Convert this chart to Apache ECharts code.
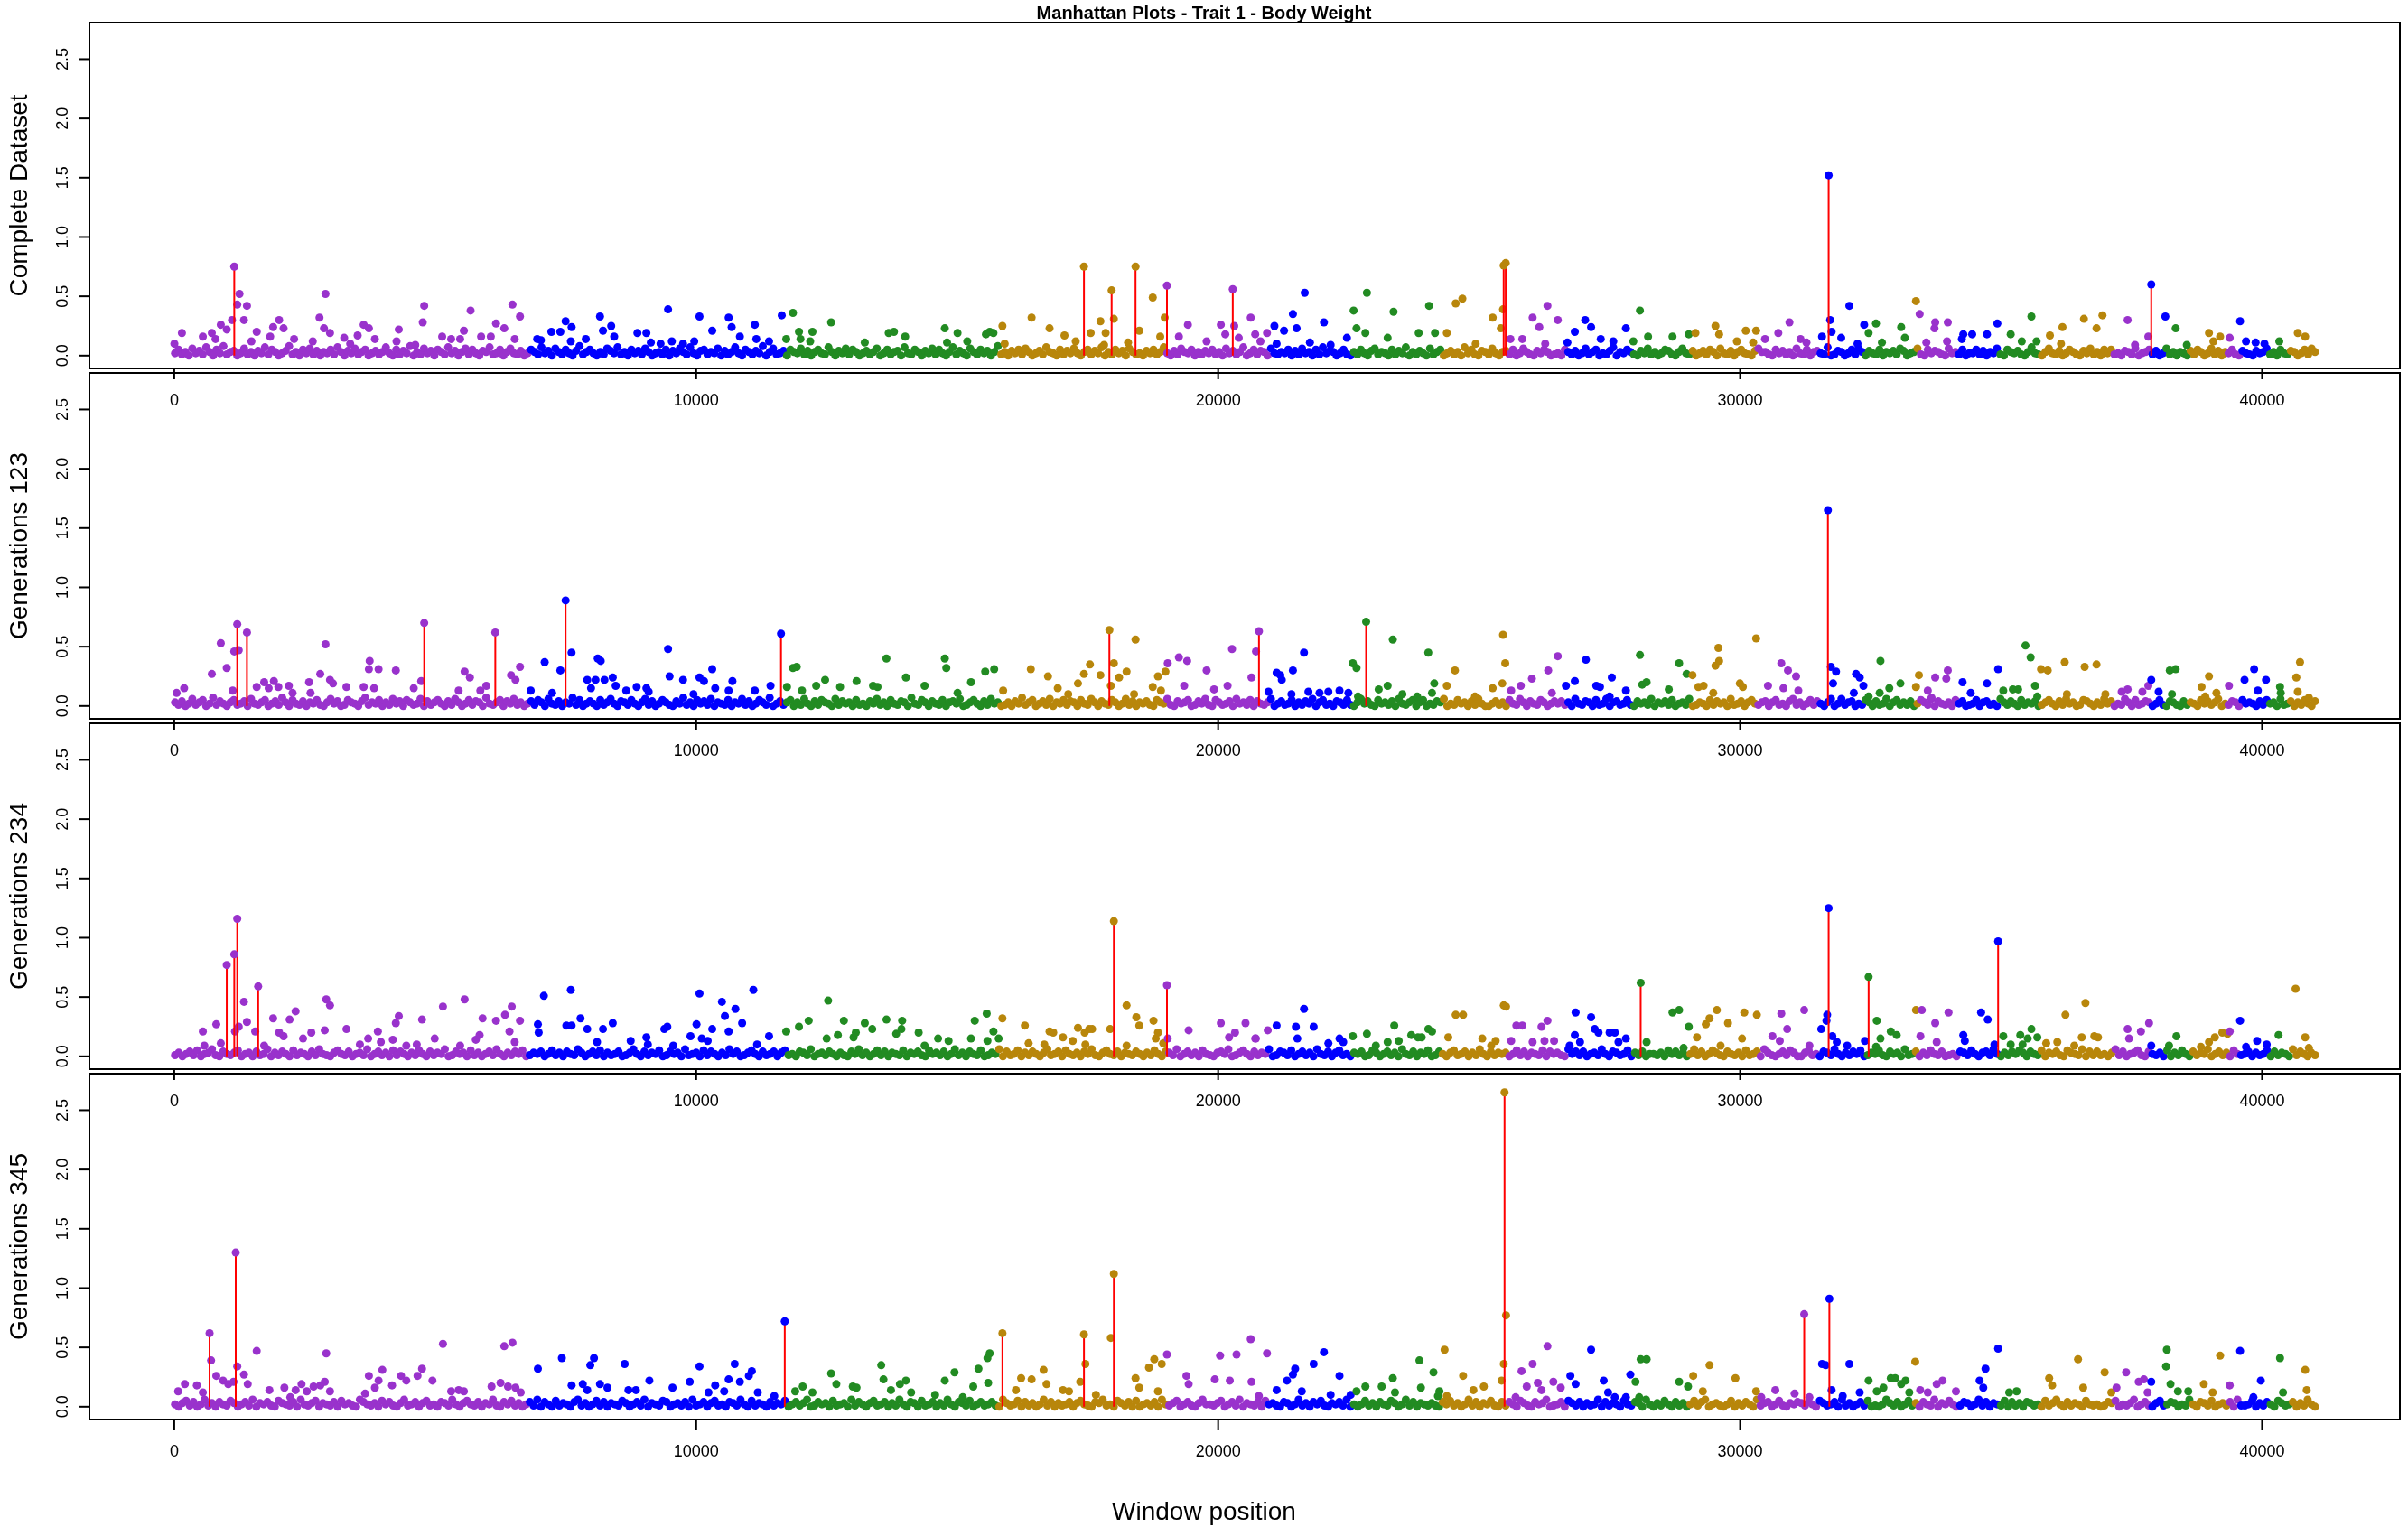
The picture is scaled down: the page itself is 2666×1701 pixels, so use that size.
<!DOCTYPE html>
<html>
<head>
<meta charset="utf-8">
<title>Manhattan Plots - Trait 1 - Body Weight</title>
<script src="https://cdn.jsdelivr.net/npm/echarts@6.0.0/dist/echarts.min.js"></script>
<style>
html, body { margin: 0; padding: 0; background: #fff; }
#main { width: 2666px; height: 1701px; }
</style>
</head>
<body>
<div id="main"></div>
<script>
var panelNames = ['Complete Dataset', 'Generations 123', 'Generations 234', 'Generations 345'];
var xTicks = [0, 10000, 20000, 30000, 40000];
var yTicks = [0, 0.5, 1, 1.5, 2, 2.5];
var xRange = [-1625, 42640];
var yRange = [-0.108, 2.808];

// last window of each chromosome, colours cycle purple / blue / green / gold
var chromEnds = [6810, 11710, 15800, 19010, 20960, 22540, 24270, 25530, 26660, 27940, 29030, 30350, 31490, 32400,
	33340, 33430, 34160, 34980, 35740, 37140, 37860, 38150, 38630, 39350, 39560, 40150, 40520, 41100];
var chromColors = ['#9932CC', '#0000FF', '#228B22', '#B8860B'];

// windows spread evenly from first to last window, low scores in hundredths
var windowSpan = [15, 41015];

var base1 = [2,5,1,3,0,6,2,4,1,7,3,0,5,2,8,1,3,4,0,2, 6,1,3,0,4,2,7,1,5,3,0,2,4,8,1,3,0,5,2,6,
	1,4,0,3,2,5,1,7,3,0,4,2,6,1,3,5,0,2,4,1, 3,7,2,0,5,1,4,2,8,0,3,1,6,2,4,0,5,3,1,7,
	2,4,0,3,6,1,5,2,0,4,3,7,1,2,5,0,3,6,2,1, 4,0,2,5,3,1,7,2,4,0,6,3,1,5,2,0,4,8,1,3,
	5,2,0,3,1,6,4,2,7,1,3,0,5,2,4,1,6,3,0,2, 3,1,5,0,4,2,6,3,1,7,2,0,4,5,1,3,2,6,0,4,
	1,3,7,2,0,5,3,1,4,2,8,0,3,6,1,2,4,0,5,3, 2,6,1,4,0,3,5,2,1,7,3,0,4,2,6,1,5,3,0,2,
	4,1,3,6,0,2,5,1,3,4,0,7,2,1,5,3,0,4,2,6, 1,5,2,0,3,7,1,4,2,0,6,3,1,5,2,4,0,3,8,1,
	3,0,4,2,5,1,6,3,0,2,4,1,7,3,2,0,5,1,4,2, 6,2,0,3,5,1,4,2,7,0,3,1,5,2,4,0,6,3,1,2,
	0,4,2,5,1,3,7,2,0,4,1,6,3,2,5,0,3,1,4,2, 5,1,3,0,6,2,4,1,3,7,0,2,5,1,4,3,0,6,2,1,
	3,2,5,0,4,1,6,2,3,0,5,1,7,2,4,3,0,2,5,1, 0,3,1,5,2,0,4,6,1,3,2,0,5,1,4,2,7,0,3,1,
	4,2,0,6,1,3,5,0,2,4,1,3,0,7,2,5,1,0,4,3, 1,6,2,0,3,4,1,5,0,2,6,3,1,0,4,2,5,3,0,1,
	2,0,5,3,1,4,0,2,6,1,3,5,0,2,1,4,7,0,3,2, 5,3,1,0,4,2,6,1,3,0,2,5,4,1,0,3,6,2,1,4,
	0,2,4,1,5,3,0,6,2,1,4,0,3,5,2,1,0,4,6,3, 3,1,0,5,2,4,1,3,0,6,2,1,5,0,3,4,2,1,7,0,
	1,4,3,0,2,5,1,6,3,0,4,2,1,5,0,3,2,4,1,6, 4,0,2,3,6,1,0,5,2,4,3,1,0,6,2,3,1,5,0,2,
	2,5,1,4,0,3,2,6,1,0,5,3,2,4,1,0,3,7,2,1, 0,3,6,2,1,4,0,2,5,3,1,0,4,2,6,1,3,0,5,2,
	5,1,2,0,4,3,1,6,0,2,3,5,1,4,0,2,6,1,3,0, 3,2,0,4,1,5,3,0,2,6,1,4,0,3,2,5,1,0,4,2,
	1,0,4,2,3,6,1,3,0,5,2,1,4,3,0,2,5,1,6,3];
var base2 = [3,1,4,0,2,6,1,3,5,0,2,7,1,4,2,0,3,5,1,2, 4,0,6,2,1,3,5,0,2,4,1,7,3,0,5,2,1,4,0,3,
	2,5,1,0,3,6,2,4,0,1,5,3,2,0,4,7,1,3,2,5, 0,3,1,6,2,4,0,5,3,1,2,6,0,4,1,3,5,2,0,4,
	1,6,3,0,2,5,1,4,3,0,7,2,1,3,5,0,4,2,6,1, 3,0,2,4,1,5,3,0,6,2,1,4,0,3,2,7,1,5,0,2,
	4,2,0,5,1,3,6,2,0,4,3,1,5,2,0,3,6,1,4,0, 2,5,3,1,0,4,2,7,1,3,0,5,2,4,1,6,0,3,2,1,
	5,0,3,2,6,1,4,0,2,5,3,1,7,0,2,4,1,3,5,0, 3,1,6,2,0,4,1,5,3,2,0,6,1,4,2,3,0,5,1,2,
	0,4,2,6,1,3,0,5,2,1,4,3,0,7,2,1,5,3,0,4, 2,1,5,0,3,4,2,6,0,1,3,5,2,0,4,1,6,2,3,0,
	1,3,0,4,2,7,1,3,5,0,2,4,1,6,0,3,2,5,1,4, 3,0,5,2,1,6,3,0,4,2,1,5,3,0,2,6,1,4,0,3,
	2,4,1,0,5,3,2,6,1,0,4,2,3,5,0,1,4,2,6,1, 0,5,3,1,2,4,0,6,2,3,1,5,0,4,2,1,3,6,0,2,
	4,1,2,5,0,3,1,4,2,6,0,3,5,1,2,0,4,3,1,5, 1,0,3,6,2,4,1,0,5,2,3,1,4,0,6,2,1,3,5,0,
	3,5,0,2,1,4,3,6,0,2,1,5,2,3,0,4,1,6,2,0, 0,2,4,1,3,0,5,2,1,6,3,0,4,2,1,5,3,0,2,4,
	2,4,1,3,0,6,2,1,4,3,0,5,1,2,6,0,3,4,1,2, 5,1,0,4,2,3,1,6,0,3,2,4,1,5,0,2,3,1,6,0,
	1,3,2,0,5,1,4,2,3,0,6,1,2,4,0,3,5,2,1,3, 4,0,3,5,1,2,0,4,6,1,3,0,2,5,1,4,2,0,3,6,
	0,2,6,1,3,4,0,2,1,5,3,0,4,1,2,6,0,3,5,1, 3,1,4,0,2,5,3,1,6,0,4,2,1,3,0,5,2,4,0,1,
	2,5,0,3,4,1,2,0,6,3,1,4,2,0,5,1,3,2,4,0, 1,3,5,2,0,4,1,6,2,3,0,1,5,4,2,0,3,1,6,2,
	4,0,2,1,6,3,0,5,1,2,4,3,0,2,5,1,0,4,3,1, 0,4,1,3,2,0,5,2,4,1,3,6,0,2,1,4,3,0,5,2,
	3,2,0,4,1,5,2,3,0,6,1,2,4,0,3,1,5,2,0,4];
var base3 = [1,3,0,2,4,1,5,0,2,3,6,1,0,4,2,1,3,5,0,2, 3,0,4,1,2,6,0,3,1,4,2,0,5,1,3,2,0,4,1,6,
	2,1,0,3,5,2,1,4,0,2,3,1,6,0,2,4,1,3,0,5, 1,4,2,0,3,1,5,2,0,4,1,3,2,6,0,1,4,2,3,0,
	5,1,3,0,2,4,1,6,2,0,3,1,4,2,5,0,1,3,2,4, 0,2,5,1,3,0,4,2,1,6,3,0,2,4,1,5,0,3,1,2,
	4,0,1,3,6,2,0,4,1,3,2,5,0,1,4,2,3,0,6,1, 2,3,0,5,1,4,2,0,3,1,6,2,4,0,1,3,5,2,0,4,
	1,2,4,0,3,5,1,2,0,4,3,1,6,0,2,3,1,4,2,0, 3,1,0,4,2,6,1,3,0,2,5,1,4,0,3,2,1,5,0,3,
	2,4,1,0,5,2,3,1,4,0,2,6,1,3,0,4,2,1,5,0, 1,3,2,6,0,4,1,2,5,0,3,1,4,2,0,3,6,1,2,4,
	0,5,2,1,3,0,4,2,6,1,0,3,5,2,1,4,0,3,2,1, 4,2,0,3,1,5,2,0,4,3,1,6,0,2,4,1,3,0,5,2,
	1,0,3,4,2,6,0,1,3,5,2,0,4,1,3,2,6,0,1,4, 3,1,5,0,2,4,1,3,0,6,2,1,4,0,3,5,1,2,0,3,
	2,4,0,1,5,3,0,2,4,1,3,0,6,2,1,4,0,3,2,5, 0,1,4,2,0,3,5,1,2,4,0,3,1,6,2,0,4,1,3,2,
	3,0,2,5,1,4,0,3,2,1,5,0,4,2,3,1,0,6,2,4, 1,4,0,2,3,1,6,2,0,4,3,1,2,5,0,3,1,4,0,2,
	2,1,3,0,5,2,4,1,3,0,2,6,1,4,0,2,5,3,1,0, 4,2,1,3,0,5,1,2,4,0,6,3,1,0,2,4,1,5,3,0,
	0,3,5,1,2,0,4,3,1,6,2,0,3,1,4,2,5,0,1,3, 2,5,1,0,4,2,3,0,6,1,2,4,0,3,1,5,2,1,4,0,
	1,2,0,4,3,1,5,2,0,3,4,1,6,2,0,3,1,4,2,5, 3,0,4,2,1,5,0,3,2,4,1,0,5,3,2,1,6,0,4,1,
	4,1,2,0,3,6,1,4,0,2,3,5,1,0,4,2,1,3,0,5, 0,3,1,5,2,0,4,1,3,2,6,0,2,4,1,3,0,5,2,1,
	2,4,0,3,1,2,5,0,4,1,3,2,0,6,1,4,2,0,3,1];
var base4 = [2,0,3,5,1,4,0,2,6,1,3,0,4,2,1,5,3,0,2,4, 1,6,0,3,2,4,1,0,5,3,2,1,4,0,6,2,1,3,5,0,
	3,2,1,4,0,5,2,3,1,0,6,4,2,1,3,0,5,2,4,1, 0,3,6,1,2,4,0,3,5,1,2,0,4,3,1,6,2,0,3,5,
	2,1,4,0,3,2,6,1,0,4,2,5,1,3,0,2,4,1,6,0, 4,2,0,5,1,3,2,0,4,6,1,3,0,2,5,1,4,0,3,2,
	1,5,3,0,2,4,1,6,0,3,2,1,5,4,0,2,3,1,4,0, 6,1,2,4,0,3,5,1,2,0,4,3,1,6,2,0,5,1,3,2,
	0,4,1,3,2,5,0,2,4,1,3,6,0,1,4,2,3,0,5,1, 2,3,0,6,1,4,2,0,3,5,1,2,4,0,3,1,6,2,0,4,
	3,0,5,1,2,4,0,3,1,6,2,0,4,3,1,5,0,2,4,1, 2,4,1,0,6,3,1,2,5,0,4,1,3,0,2,6,1,4,0,3,
	1,2,4,0,3,5,2,1,0,4,3,6,1,2,0,5,3,1,4,0, 5,0,2,3,1,4,0,6,2,1,3,5,0,2,4,1,0,3,6,2,
	2,1,3,5,0,2,4,1,6,0,3,2,1,4,0,5,2,3,1,0, 4,3,0,2,6,1,3,0,4,2,5,1,0,3,2,4,1,6,0,2,
	0,2,5,1,3,0,4,2,1,5,3,0,2,6,1,4,0,3,2,1, 3,1,0,4,2,5,1,3,0,2,6,1,4,0,3,2,5,1,0,4,
	1,4,2,0,5,3,1,0,4,2,3,6,0,1,2,4,0,5,3,1, 4,0,3,1,2,6,0,4,1,3,2,0,5,2,1,4,3,0,6,2,
	0,3,1,5,2,0,4,1,3,0,2,5,1,4,6,0,2,3,1,0, 2,5,0,3,1,4,2,0,6,1,3,4,0,2,5,1,0,3,2,4,
	3,1,4,2,0,5,3,1,2,4,0,6,1,3,0,2,4,1,5,0, 1,0,2,6,3,1,4,0,2,5,1,3,0,4,2,1,6,0,3,2,
	5,2,0,1,4,3,0,2,6,1,4,0,3,2,1,5,0,4,1,3, 0,4,3,1,2,0,5,1,3,6,2,0,4,1,3,2,0,5,2,1,
	2,0,1,4,3,5,0,2,1,3,6,0,2,4,1,0,3,5,1,2, 4,3,0,2,1,6,2,0,4,3,1,5,0,2,3,1,4,0,6,1,
	1,2,5,0,3,1,4,2,0,5,3,1,2,4,0,3,1,6,2,0];

// visible scores above the dense band: [window, score]
var hits1 = [[3,.10],[147,.19],[548,.16],[720,.19],[791,.14],[892,.26],[1006,.22],[1107,.30],[1250,.52],[1207,.43],[1393,.42],[1336,.30],
	[1580,.20],[1479,.12],[1838,.16],[1895,.24],[2010,.30],[2095,.23],[2296,.14],[2654,.12],[2783,.32],[2898,.52],[2869,.23],[2984,.19],
	[3256,.15],[3371,.10],[3514,.17],[3629,.26],[3729,.23],[3844,.14],[4302,.22],[4259,.12],[4618,.09],[4789,.42],[4761,.28],[5133,.16],
	[5305,.14],[5477,.14],[5549,.21],[5678,.38],[5879,.16],[6065,.16],[6165,.27],[6323,.23],[6480,.43],[6624,.33],[6523,.14],
	[6953,.14],[7025,.13],[7226,.20],[7397,.20],[7498,.29],[7613,.24],[7598,.12],[7885,.14],[8157,.33],[8214,.21],[8372,.25],[8429,.16],
	[8874,.19],[9046,.19],[9131,.11],[9317,.10],[9461,.39],[9533,.12],[9748,.10],[10063,.33],[9963,.12],[10307,.21],[10622,.32],[10679,.24],
	[10837,.16],[11123,.26],[11152,.14],[11396,.12],[11639,.34],[11725,.14],
	[11854,.36],[11969,.20],[11998,.14],[12227,.20],[12184,.12],[12585,.28],[13230,.11],[13688,.19],[13789,.20],[14004,.16],[14763,.23],
	[14806,.11],[15007,.19],[15193,.12],[15551,.18],[15623,.20],[15695,.19],
	[15867,.25],[15910,.10],[16426,.32],[16770,.23],[17056,.17],[17271,.12],[17558,.19],[17744,.29],[17844,.19],[17815,.09],[18002,.31],
	[18274,.11],[18489,.21],[18747,.49],[18890,.16],[18976,.32],
	[19248,.16],[19420,.26],[19779,.12],[20051,.26],[20137,.18],[20309,.25],[20395,.15],[20624,.32],[20710,.18],[20810,.12],
	[20936,.19],[21078,.25],[21120,.10],[21262,.21],[21432,.35],[21503,.23],[21659,.53],[21758,.11],[22027,.28],[22155,.09],[22467,.15],
	[22595,.38],[22651,.23],[22850,.53],[22821,.19],[23247,.15],[23360,.37],[23842,.19],[24041,.42],[24154,.19],
	[24381,.19],[24551,.44],[24679,.48],[24934,.10],[25260,.32],[25458,.39],[25416,.23],
	[25600,.14],[25827,.14],[26025,.32],[26153,.24],[26309,.42],[26507,.30],[26266,.10],
	[26691,.11],[26833,.20],[27032,.30],[27145,.24],[27330,.14],[27571,.12],[27812,.23],[27954,.12],
	[28081,.38],[28237,.16],[28705,.16],[29017,.18],
	[29144,.19],[29527,.25],[29598,.18],[29938,.12],[30108,.21],[30307,.21],[30250,.11],
	[30477,.14],[30732,.19],[30945,.28],[31157,.14],[31271,.11],[31569,.16],
	[31725,.30],[31753,.20],[31937,.15],[32093,.42],[32249,.10],[32377,.26],
	[32462,.19],[32603,.27],[32717,.11],[33086,.24],[33156,.15],[33369,.46],
	[33440,.35],[33568,.11],[33724,.23],[33738,.28],[33964,.12],[33979,.28],
	[34248,.14],[34276,.18],[34446,.18],[34730,.18],[34928,.27],
	[35184,.18],[35396,.12],[35581,.33],[35680,.12],
	[35935,.17],[36176,.24],[36148,.10],[36587,.31],[36828,.23],[36942,.34],
	[37424,.30],[37565,.09],[37821,.16],
	[38147,.33],[38345,.23],[38558,.09],[38983,.19],[39068,.12],[39196,.16],[39380,.15],[39579,.29],[39692,.12],[39876,.11],
	[40046,.10],[40330,.12],[40684,.19],[40825,.16]];
var hits2 = [[46,.11],[190,.15],[720,.27],[892,.53],[1006,.32],[1150,.46],[1236,.47],[1121,.13],[1580,.16],[1723,.20],[1809,.15],[1909,.21],
	[1995,.16],[2196,.17],[2267,.11],[2583,.20],[2611,.11],[2797,.27],[2898,.52],[2984,.22],[3041,.19],[3299,.16],[3629,.16],[3744,.38],
	[3729,.31],[3915,.31],[3829,.15],[4245,.30],[4589,.15],[4732,.21],[5563,.29],[5664,.24],[5449,.13],[5864,.13],[5979,.17],[6452,.26],
	[6538,.22],[6624,.33],
	[6830,.13],[7097,.37],[7398,.30],[7240,.11],[7612,.45],[7913,.22],[7985,.15],[8071,.22],[8114,.40],[8171,.38],[8243,.22],[8401,.24],
	[8458,.17],[8659,.13],[8859,.16],[9046,.15],[9089,.12],[9461,.48],[9490,.25],[9748,.22],[9948,.10],[10063,.24],[10149,.21],[10307,.31],
	[10364,.15],[10622,.13],[10694,.21],[11123,.13],[11424,.17],[11739,.16],
	[11854,.32],[11926,.33],[12027,.13],[12299,.17],[12470,.22],[12757,.16],[13072,.21],[13388,.17],[13474,.16],[13644,.40],[14018,.24],
	[14376,.17],[14763,.40],[14792,.32],[15265,.20],[15537,.29],[15709,.31],[15007,.11],
	[15881,.13],[16411,.31],[16740,.25],[16927,.15],[17128,.10],[17314,.19],[17429,.27],[17544,.35],[17744,.26],[18002,.36],[17944,.17],
	[18102,.24],[18245,.29],[18417,.56],[18389,.10],[18747,.16],[18847,.25],[18990,.29],[18904,.13],
	[19034,.36],[19248,.41],[19406,.38],[19349,.17],[19779,.30],[19922,.14],[20180,.17],[20266,.48],[20639,.24],[20725,.46],
	[20964,.12],[21120,.28],[21219,.22],[21191,.26],[21432,.30],[21645,.45],[21404,.10],[21730,.12],[21942,.11],[22112,.12],[22325,.13],
	[22495,.11],
	[22580,.36],[22651,.32],[22680,.08],[23076,.14],[23247,.17],[23346,.56],[23530,.10],[23814,.08],[24026,.45],[24097,.11],[24140,.19],
	[24381,.17],[24537,.30],[24920,.08],[25260,.15],[25444,.19],[25458,.60],[25501,.36],
	[25614,.13],[25798,.17],[26011,.23],[26323,.30],[26507,.42],[26394,.11],
	[26663,.17],[26833,.21],[27046,.39],[27245,.17],[27315,.16],[27542,.24],[27500,.08],[27812,.13],
	[28081,.43],[28124,.18],[28209,.20],[28634,.14],[28832,.36],[28974,.27],
	[29088,.26],[29201,.16],[29300,.17],[29527,.34],[29598,.38],[29584,.49],[29485,.11],[29995,.19],[30052,.16],[30307,.57],
	[30534,.17],[30789,.36],[30917,.30],[31072,.25],[30831,.15],[31115,.13],
	[31739,.33],[31838,.29],[31781,.19],[32221,.27],[32292,.24],[32362,.17],[32178,.11],
	[32689,.38],[32674,.11],[32859,.15],[33071,.19],[32462,.08],
	[33426,.26],[33369,.16],[33596,.13],[33738,.24],[33950,.23],[33979,.30],[33667,.07],
	[34262,.20],[34418,.11],[34730,.19],[34943,.31],
	[35042,.13],[35226,.14],[35326,.14],[35467,.51],[35566,.41],[35651,.17],[35694,.08],
	[35765,.31],[35893,.30],[36219,.37],[36261,.10],[36601,.33],[36828,.35],[36998,.10],
	[37310,.12],[37424,.14],[37707,.12],[37821,.17],[37877,.22],[38019,.12],
	[38232,.30],[38345,.31],[38274,.10],
	[38841,.16],[38983,.25],[38912,.08],[39125,.11],
	[39366,.17],[39664,.22],[39848,.31],[39919,.13],[40075,.22],
	[40344,.16],[40358,.11],[40656,.24],[40727,.37],[40684,.12],[40897,.07]];
var hits3 = [[548,.21],[577,.09],[806,.27],[892,.11],[1164,.21],[1236,.25],[1336,.46],[1393,.29],[1551,.21],[1723,.09],[1895,.32],
	[2010,.20],[2095,.17],[2210,.31],[2325,.38],[2468,.15],[2626,.20],[2883,.22],[2912,.48],[2984,.43],[3299,.23],[3557,.10],[3715,.15],
	[3901,.21],[3958,.12],[4188,.14],[4245,.28],[4302,.34],[4446,.09],[4646,.10],[4747,.31],[4990,.15],[5148,.42],[5477,.09],[5563,.48],
	[5778,.14],[5850,.18],[5907,.32],[6165,.30],[6337,.35],[6423,.21],[6466,.42],[6523,.12],[6624,.30],
	[6967,.27],[6982,.20],[7082,.51],[7512,.26],[7613,.26],[7598,.56],[7784,.32],[7913,.23],[8100,.12],[8214,.23],[8401,.28],[8745,.13],
	[9046,.16],[9074,.10],[9389,.23],[9447,.25],[9561,.09],[9891,.17],[10006,.27],[10063,.53],[10106,.15],[10220,.13],[10307,.23],
	[10493,.46],[10550,.34],[10622,.21],[10751,.40],[10880,.28],[11095,.56],[11166,.10],[11396,.17],[11725,.21],
	[11969,.25],[12155,.30],[12528,.47],[12499,.15],[12714,.18],[12829,.30],[13015,.16],[13058,.20],[13230,.28],[13373,.23],[13645,.31],
	[13832,.19],[13932,.23],[13946,.30],[14262,.20],[14376,.09],[14634,.15],[14835,.13],[15265,.15],[15337,.30],[15566,.36],[15695,.21],
	[15580,.13],[15795,.15],
	[15867,.32],[16297,.26],[16369,.11],[16670,.10],[16770,.21],[16841,.20],[17027,.16],[17214,.13],[17314,.24],[17443,.20],[17529,.23],
	[17586,.23],[17457,.10],[17930,.23],[18245,.43],[18245,.09],[18432,.33],[18489,.26],[18761,.30],[18804,.15],[18847,.20],[18948,.11],
	[19034,.15],[19435,.22],[20051,.28],[20209,.16],[20323,.20],[20524,.28],[20710,.15],
	[20723,.15],[20950,.22],[21120,.26],[21489,.25],[21517,.15],[21645,.40],[21829,.25],[22112,.11],[22325,.15],[22396,.12],
	[22580,.17],[22850,.19],[23021,.09],[23247,.12],[23374,.26],[23459,.13],[23700,.18],[23828,.16],[23899,.16],[24026,.23],[24097,.21],
	[24409,.16],[24551,.35],[24693,.35],[25061,.15],[25231,.09],[25316,.13],[25472,.43],[25515,.42],
	[25614,.13],[25713,.26],[25827,.26],[26025,.12],[26195,.25],[26309,.30],[26252,.13],[26436,.13],
	[26734,.09],[26848,.37],[26833,.18],[26933,.12],[27145,.33],[27216,.23],[27287,.20],[27500,.20],[27599,.20],[27670,.12],[27812,.15],
	[28209,.12],[28705,.37],[28832,.39],[29017,.25],[28917,.07],
	[29173,.16],[29343,.27],[29414,.32],[29555,.39],[29768,.28],[29626,.09],[30080,.37],[30321,.35],[30037,.15],
	[30619,.17],[30760,.13],[30789,.36],[30902,.23],[31228,.39],[31328,.09],
	[31554,.23],[31654,.30],[31668,.35],[31767,.17],[31852,.12],[32051,.09],[32391,.13],
	[32618,.30],[32689,.15],[32887,.21],[33000,.18],[32604,.08],
	[33369,.39],[33482,.39],[33454,.17],[33738,.28],[33993,.37],[33766,.12],
	[34276,.18],[34305,.13],[34617,.37],[34744,.31],[34872,.10],
	[35042,.17],[35184,.10],[35368,.18],[35411,.10],[35510,.15],[35581,.23],[35694,.16],
	[35864,.11],[36077,.12],[36233,.35],[36403,.09],[36545,.16],[36616,.45],[36786,.17],[36857,.16],
	[37424,.23],[37452,.15],[37679,.21],[37835,.28],[37877,.09],[38218,.09],[38360,.17],
	[38827,.08],[38983,.12],[39096,.16],[39238,.20],[39338,.19],[39380,.21],[39579,.30],[39692,.08],[39905,.13],[40089,.10],
	[40316,.18],[40642,.57],[40826,.16],[40897,.07]];
var hits4 = [[75,.13],[204,.19],[433,.18],[548,.12],[706,.39],[806,.26],[935,.22],[1035,.19],[1136,.21],[1207,.34],[1336,.27],[1408,.19],
	[1580,.47],[1823,.14],[2110,.16],[2224,.08],[2325,.14],[2439,.19],[2540,.13],[2669,.17],[2798,.18],[2884,.21],[2912,.45],[2984,.13],
	[3657,.11],[3729,.26],[3844,.16],[3915,.22],[3987,.31],[4173,.18],[4345,.26],[4446,.22],[4661,.26],[4747,.32],[4947,.22],[5148,.53],
	[5305,.13],[5449,.14],[5549,.13],[6079,.17],[6251,.20],[6323,.51],[6480,.54],[6394,.17],[6538,.16],[6638,.12],
	[6967,.32],[7426,.41],[7613,.18],[7827,.19],[7913,.14],[7971,.35],[8042,.41],[8157,.19],[8300,.16],[8630,.36],[8702,.14],[8845,.14],
	[9103,.22],[9547,.16],[9877,.21],[10063,.34],[10235,.12],[10364,.18],[10536,.13],[10622,.23],[10737,.36],[10837,.21],[11009,.26],
	[11066,.30],[11180,.12],[11496,.09],
	[11897,.13],[12041,.17],[12227,.12],[12585,.28],[12685,.19],[13000,.17],[13072,.16],[13545,.35],[13588,.23],[13731,.14],[13903,.19],
	[14018,.22],[14118,.12],[14577,.10],[14763,.22],[14949,.29],[15107,.08],[15308,.17],[15408,.32],[15580,.41],[15623,.45],[15594,.20],
	[16125,.14],[16225,.24],[16426,.23],[16655,.31],[16712,.19],[17027,.14],[17142,.13],[17357,.21],[17457,.36],[17658,.10],[17944,.58],
	[18417,.24],[18489,.16],[18675,.33],[18776,.40],[18919,.36],[18847,.13],
	[19019,.44],[19392,.26],[19435,.19],[19936,.23],[20037,.43],[20223,.22],[20352,.44],[20624,.57],[20639,.21],
	[20780,.09],[20936,.45],[21120,.14],[21319,.22],[21432,.27],[21475,.32],[21602,.13],[21829,.36],[22027,.46],[22325,.26],[22155,.10],
	[22538,.10],[22651,.13],[22821,.17],[23133,.17],[23346,.24],[23388,.12],[23856,.39],[23885,.16],[24125,.29],[24211,.09],[24239,.13],
	[24338,.48],[24381,.09],[24693,.26],[24891,.14],[25090,.17],[25430,.22],[25472,.36],[25515,.77],
	[25699,.08],[25813,.30],[25912,.17],[26025,.36],[26125,.20],[26195,.14],[26309,.51],[26422,.21],[26564,.16],
	[26748,.26],[26848,.19],[27145,.48],[27386,.22],[27471,.12],[27599,.08],[27812,.08],[27897,.27],[27996,.21],
	[28095,.40],[28209,.40],[28067,.08],[28832,.21],[29002,.17],[29102,.26],[29286,.13],[29414,.35],[29910,.24],[30307,.13],
	[30406,.08],[30675,.14],[31044,.11],[31328,.08],[31569,.36],[31640,.35],[31753,.14],[31966,.09],[32093,.36],[32291,.12],
	[32462,.22],[32618,.13],[32745,.16],[32887,.24],[32972,.24],[33086,.19],[33170,.22],[33241,.12],[33355,.38],
	[33450,.14],[33596,.12],[33766,.19],[33879,.22],[34135,.13],[34588,.22],[34701,.32],[34943,.49],[34659,.16],
	[35155,.12],[35297,.13],[35921,.24],[35978,.18],[36474,.40],[36573,.16],[36984,.29],[37112,.12],
	[37211,.16],[37395,.29],[37636,.21],[37736,.23],[37807,.12],[37877,.21],
	[38175,.48],[38161,.34],[38246,.19],[38388,.13],[38586,.13],[38884,.19],[39196,.43],[39054,.12],[39380,.18],[39579,.47],[39976,.22],
	[39834,.08],[40344,.41],[40401,.12],[40826,.31],[40855,.14]];

// significant windows, drawn with a red stem from zero
var peaks1 = [[1150,.75],[17429,.75],[17959,.55],[18417,.75],[19019,.59],[20280,.56],[25470,.76],[25510,.78],[31696,1.52],[37877,.60]];
var peaks2 = [[1207,.69],[1393,.62],[4789,.70],[6151,.62],[7498,.89],[11625,.61],[17916,.64],[20782,.63],[22835,.71],[31682,1.65]];
var peaks3 = [[1006,.77],[1150,.86],[1207,1.16],[1608,.59],[18002,1.14],[19019,.60],[28095,.62],[31696,1.25],[32462,.67],[34943,.97]];
var peaks4 = [[677,.62],[1178,1.30],[11697,.72],[15867,.62],[17429,.61],[18002,1.12],[25487,2.65],[31228,.78],[31710,.91]];

var panels = [
	{base: base1, hits: hits1, peaks: peaks1},
	{base: base2, hits: hits2, peaks: peaks2},
	{base: base3, hits: hits3, peaks: peaks3},
	{base: base4, hits: hits4, peaks: peaks4}
];

var font = 'Liberation Sans';
var tops = [25, 413, 801, 1189];

function colorAt(x) {
	for (var i = 0; i < chromEnds.length; i++) {
		if (x <= chromEnds[i]) return chromColors[i % 4];
	}
	return chromColors[(chromEnds.length - 1) % 4];
}

function toItems(list) {
	return list.map(function(p) {
		return {value: p, itemStyle: {color: colorAt(p[0]), opacity: 1}};
	});
}

function bandItems(base) {
	var step = (windowSpan[1] - windowSpan[0]) / (base.length - 1);
	var out = [];
	for (var i = 0; i < base.length; i++) {
		var x = Math.round(windowSpan[0] + i * step);
		out.push({value: [x, base[i] / 100], itemStyle: {color: colorAt(x), opacity: 1}});
	}
	return out;
}

var grids = [], xAxes = [], yAxes = [], series = [];

panels.forEach(function(pn, i) {
	grids.push({
		left: 97, width: 2560, top: tops[i], height: 383,
		show: true, borderColor: '#000', borderWidth: 2, backgroundColor: 'transparent'
	});
	xAxes.push({
		type: 'value', gridIndex: i, min: xRange[0], max: xRange[1], position: 'bottom',
		axisLine: {show: false, onZero: false},
		splitLine: {show: false},
		axisTick: {show: false},
		axisLabel: {
			customValues: xTicks, margin: 27, fontSize: 18, color: '#000', fontFamily: font,
			formatter: function(v) { return String(v); }
		}
	});
	yAxes.push({
		type: 'value', gridIndex: i, min: yRange[0], max: yRange[1], position: 'left',
		axisLine: {show: false, onZero: false},
		splitLine: {show: false},
		axisTick: {show: false},
		axisLabel: {
			customValues: yTicks, rotate: 90, margin: 20, fontSize: 18, color: '#000', fontFamily: font,
			formatter: function(v) { return v.toFixed(1); }
		},
		name: panelNames[i], nameLocation: 'middle', nameGap: 63,
		nameTextStyle: {fontSize: 28, color: '#000', fontFamily: font}
	});
	series.push({
		type: 'scatter', xAxisIndex: i, yAxisIndex: i, symbolSize: 9, z: 2, silent: true,
		itemStyle: {opacity: 1},
		data: bandItems(pn.base).concat(toItems(pn.hits))
	});
	series.push({
		type: 'custom', xAxisIndex: i, yAxisIndex: i, z: 3, silent: true,
		encode: {x: 0, y: 1},
		data: pn.peaks,
		renderItem: function(params, api) {
			var p0 = api.coord([api.value(0), 0]);
			var p1 = api.coord([api.value(0), api.value(1)]);
			return {
				type: 'line',
				shape: {x1: p0[0], y1: p0[1], x2: p1[0], y2: p1[1]},
				style: {stroke: '#FF0000', lineWidth: 2}
			};
		}
	});
	series.push({
		type: 'scatter', xAxisIndex: i, yAxisIndex: i, symbolSize: 9, z: 4, silent: true,
		itemStyle: {opacity: 1},
		data: toItems(pn.peaks)
	});
});

var myChart = echarts.init(document.getElementById('main'));
myChart.setOption({
	animation: false,
	backgroundColor: '#fff',
	title: [
		{text: 'Manhattan Plots - Trait 1 - Body Weight', left: 'center', top: 0,
			textStyle: {fontSize: 20, fontWeight: 'bold', color: '#000', fontFamily: font}},
		{text: 'Window position', left: 'center', top: 1656,
			textStyle: {fontSize: 28, fontWeight: 'normal', color: '#000', fontFamily: font}}
	],
	grid: grids,
	xAxis: xAxes,
	yAxis: yAxes,
	series: series
});

// outward tick marks, positioned through each panel's own axes
var tickMarks = [];
panels.forEach(function(pn, i) {
	var left = myChart.convertToPixel({xAxisIndex: i}, xRange[0]);
	var bottom = myChart.convertToPixel({yAxisIndex: i}, yRange[0]);
	yTicks.forEach(function(v) {
		var py = myChart.convertToPixel({yAxisIndex: i}, v);
		tickMarks.push({type: 'line', z: 100, silent: true,
			shape: {x1: left - 12, y1: py, x2: left, y2: py},
			style: {stroke: '#000', lineWidth: 2}});
	});
	xTicks.forEach(function(v) {
		var px = myChart.convertToPixel({xAxisIndex: i}, v);
		tickMarks.push({type: 'line', z: 100, silent: true,
			shape: {x1: px, y1: bottom, x2: px, y2: bottom + 12},
			style: {stroke: '#000', lineWidth: 2}});
	});
});
myChart.setOption({graphic: {elements: tickMarks}});
</script>
</body>
</html>
